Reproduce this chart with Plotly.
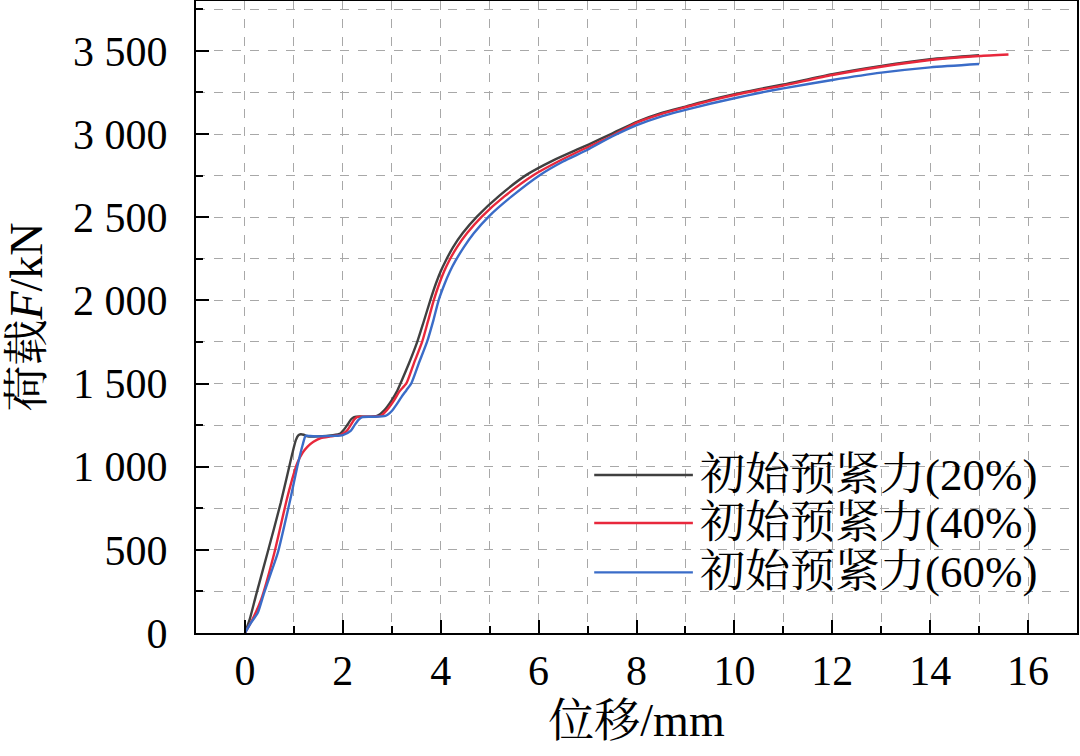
import plotly.graph_objects as go

# ---------------- data ----------------
x_20 = [0, 0.1, 0.22, 0.46, 0.73, 0.97, 1.04, 1.09, 1.14, 1.2, 1.28, 1.5, 1.8, 1.95, 2.02, 2.1, 2.17, 2.23, 2.35, 2.5, 2.7,
        2.85, 3.0, 3.1, 3.18, 3.35, 3.52, 3.65, 3.79, 3.9, 4.0, 4.1, 4.25, 4.45, 4.74, 5.2, 5.76, 6.3, 6.78, 7.02, 7.5,
        8.02, 8.5, 9.0, 9.5, 10.0, 10.5, 11.0, 12.0, 13.0, 14.0, 15.0]
F_20 = [0, 85, 220, 481, 781, 1082, 1160, 1188, 1195, 1192, 1182, 1182, 1190, 1200, 1222, 1255, 1285, 1298, 1302, 1300, 1305,
        1340, 1400, 1450, 1502, 1620, 1750, 1870, 2003, 2100, 2175, 2237, 2319, 2405, 2504, 2630, 2756, 2842, 2906, 2937, 3003,
        3075, 3125, 3165, 3205, 3240, 3270, 3298, 3360, 3410, 3450, 3474]

x_40 = [0, 0.15, 0.33, 0.6, 0.87, 1.07, 1.18, 1.28, 1.4, 1.55, 1.75, 1.96, 2.08, 2.16, 2.23, 2.29, 2.4, 2.55, 2.77,
        2.9, 3.05, 3.15, 3.3, 3.45, 3.62, 3.74, 3.86, 3.97, 4.07, 4.17, 4.33, 4.54, 4.84, 5.3, 5.9, 6.4, 6.88, 7.5,
        8.02, 8.5, 9.0, 9.5, 10.0, 10.5, 11.0, 12.0, 13.0, 14.0, 15.0, 15.6]
F_40 = [0, 80, 200, 481, 821, 1022, 1085, 1121, 1150, 1172, 1182, 1192, 1215, 1250, 1282, 1298, 1301, 1300, 1305,
        1340, 1400, 1450, 1502, 1620, 1750, 1875, 2003, 2100, 2175, 2237, 2319, 2405, 2504, 2625, 2754, 2835, 2904, 2990,
        3070, 3120, 3161, 3200, 3235, 3265, 3292, 3355, 3405, 3445, 3469, 3478]

x_60 = [0, 0.12, 0.26, 0.39, 0.53, 0.67, 0.94, 1.07, 1.18, 1.24, 1.3, 1.5, 1.8, 2.0, 2.16, 2.24, 2.32, 2.4, 2.6, 2.87,
        3.0, 3.1, 3.2, 3.3, 3.4, 3.55, 3.72, 3.85, 3.96, 4.08, 4.19, 4.3, 4.47, 4.68, 4.98, 5.45, 6.03, 6.5, 6.99, 7.5,
        8.02, 8.5, 9.0, 9.5, 10.0, 10.5, 11.0, 12.0, 13.0, 14.0, 15.0]
F_60 = [0, 60, 120, 240, 360, 481, 821, 1001, 1132, 1186, 1185, 1182, 1185, 1190, 1215, 1250, 1282, 1298, 1300, 1305,
        1335, 1375, 1420, 1460, 1502, 1620, 1750, 1880, 2003, 2100, 2175, 2237, 2319, 2405, 2504, 2625, 2754, 2835, 2904, 2985,
        3055, 3105, 3145, 3182, 3215, 3247, 3275, 3325, 3369, 3401, 3421]

series_names = ["初始预紧力(20%)", "初始预紧力(40%)", "初始预紧力(60%)"]
series_colors = ["#404040", "#e8283c", "#3a6cc8"]

y_tick_vals = [0, 500, 1000, 1500, 2000, 2500, 3000, 3500]
y_tick_text = ["0", "500", "1 000", "1 500", "2 000", "2 500", "3 000", "3 500"]
x_tick_vals = [0, 2, 4, 6, 8, 10, 12, 14, 16]

FONT = "Liberation Serif, Times New Roman, Noto Serif CJK SC, Noto Sans CJK SC, serif"

fig = go.Figure()
for xs, ys, name, col in zip([x_20, x_40, x_60], [F_20, F_40, F_60], series_names, series_colors):
    fig.add_trace(go.Scatter(x=xs, y=ys, mode="lines", name=name, showlegend=False,
                             line=dict(color=col, width=2.4, shape="spline", smoothing=0.6)))

# custom legend (long line samples like the original)
leg_x0, leg_x1, leg_tx = 0.452, 0.564, 0.570
leg_ys = [0.250, 0.174, 0.096]
for name, col, ly in zip(series_names, series_colors, leg_ys):
    fig.add_shape(type="line", xref="paper", yref="paper", x0=leg_x0, x1=leg_x1, y0=ly, y1=ly,
                  line=dict(color=col, width=2.4))
    fig.add_annotation(xref="paper", yref="paper", x=leg_tx, y=ly, text=name, showarrow=False,
                       xanchor="left", yanchor="middle", font=dict(family=FONT, size=45, color="black"))

axis_common = dict(
    showline=True, linecolor="black", linewidth=2, mirror=True,
    ticks="inside", tickcolor="black", tickwidth=2, ticklen=13,
    showgrid=True, gridcolor="#a8a8a8", griddash="dash", gridwidth=1,
    zeroline=False, tickfont=dict(family=FONT, size=42, color="black"),
)

fig.update_xaxes(range=[-1, 17], tickvals=x_tick_vals, ticklabelstandoff=0,
                 minor=dict(dtick=1, tick0=0, ticks="inside", ticklen=7, tickwidth=2, tickcolor="black",
                            showgrid=True, gridcolor="#a8a8a8", griddash="dash", gridwidth=1),
                 title=dict(text="位移/mm", font=dict(family=FONT, size=46, color="black"), standoff=10),
                 **axis_common)
fig.update_yaxes(range=[0, 3800], tickvals=y_tick_vals, ticktext=y_tick_text, ticklabelstandoff=18,
                 minor=dict(dtick=250, tick0=0, ticks="inside", ticklen=7, tickwidth=2, tickcolor="black",
                            showgrid=True, gridcolor="#a8a8a8", griddash="dash", gridwidth=1),
                 title=dict(text="荷载<i>F</i>/kN", font=dict(family=FONT, size=46, color="black"), standoff=16),
                 **axis_common)

fig.update_layout(width=1080, height=756, margin=dict(l=196, r=3, t=1, b=123, autoexpand=False),
                  paper_bgcolor="white", plot_bgcolor="white", showlegend=False)

fig.write_html("out.html")
